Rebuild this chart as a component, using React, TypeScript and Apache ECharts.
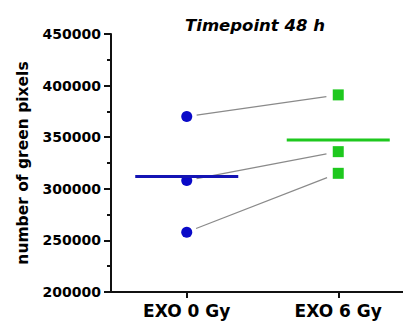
import React, { useEffect, useRef } from "react";
import * as echarts from "echarts";

const categories = ["EXO 0 Gy", "EXO 6 Gy"];
const exo0Values = [370000, 308000, 258000];
const exo6Values = [391000, 336000, 315000];
const yTicks = { min: 200000, max: 450000, interval: 50000 };
const titleText = "Timepoint 48 h";
const yAxisName = "number of green pixels";

const BLUE = "#0a0ac8";
const GREEN = "#1ec81e";
const FONT = "DejaVu Sans";

const mean = (a: number[]) => a.reduce((s, v) => s + v, 0) / a.length;

export default function App() {
  const ref = useRef<HTMLDivElement>(null);
  useEffect(() => {
    if (!ref.current) return;
    const chart = echarts.init(ref.current, null, { renderer: "svg" });
    const pairs = exo0Values.map((v, i) => [0, v, exo6Values[i]]);
    const means = [mean(exo0Values), mean(exo6Values)];
    chart.setOption({
      animation: false,
      backgroundColor: "#ffffff",
      title: {
        text: titleText,
        left: 180,
        top: 12,
        textStyle: {
          fontFamily: FONT,
          fontSize: 16.5,
          fontWeight: "bold",
          fontStyle: "italic",
          color: "#000",
        },
      },
      grid: { left: 111, right: 0, top: 34, bottom: 35, containLabel: false },
      xAxis: {
        type: "category",
        data: categories,
        boundaryGap: true,
        axisLine: { show: true, lineStyle: { color: "#111", width: 2 } },
        axisTick: { show: true, alignWithLabel: true, length: 6, lineStyle: { color: "#111", width: 2 } },
        axisLabel: {
          fontFamily: FONT,
          fontSize: 17,
          fontWeight: "bold",
          color: "#000",
          margin: 10,
        },
        splitLine: { show: false },
      },
      yAxis: {
        type: "value",
        min: yTicks.min,
        max: yTicks.max,
        interval: yTicks.interval,
        name: yAxisName,
        nameLocation: "middle",
        nameRotate: 90,
        nameGap: 80,
        nameTextStyle: {
          fontFamily: FONT,
          fontSize: 15.5,
          fontWeight: "bold",
          color: "#000",
        },
        axisLine: { show: true, lineStyle: { color: "#111", width: 2 } },
        axisTick: { show: true, length: 7, lineStyle: { color: "#111", width: 2 } },
        minorTick: { show: true, splitNumber: 2, length: 4, lineStyle: { color: "#111", width: 2 } },
        axisLabel: {
          fontFamily: FONT,
          fontSize: 14,
          fontWeight: "bold",
          color: "#000",
          margin: 10,
          formatter: (v: number) => String(v),
        },
        splitLine: { show: false },
      },
      series: [
        {
          type: "custom",
          name: "pairs",
          data: pairs,
          encode: { x: 0, y: [1, 2] },
          silent: true,
          z: 1,
          renderItem: (params: any, api: any) => {
            const p0 = api.coord([0, api.value(1)]);
            const p1 = api.coord([1, api.value(2)]);
            const dx = p1[0] - p0[0];
            const dy = p1[1] - p0[1];
            const len = Math.sqrt(dx * dx + dy * dy);
            const ux = dx / len;
            const uy = dy / len;
            const s = 10;
            const e = 12;
            return {
              type: "line",
              shape: {
                x1: p0[0] + ux * s,
                y1: p0[1] + uy * s,
                x2: p1[0] - ux * e,
                y2: p1[1] - uy * e,
              },
              style: { stroke: "#8a8a8a", lineWidth: 1.2 },
            };
          },
        },
        {
          type: "scatter",
          name: categories[0],
          data: exo0Values.map((v) => [categories[0], v]),
          symbol: "circle",
          symbolSize: 11,
          itemStyle: { color: BLUE, opacity: 1 },
          z: 2,
        },
        {
          type: "scatter",
          name: categories[1],
          data: exo6Values.map((v) => [categories[1], v]),
          symbol: "rect",
          symbolSize: 11,
          itemStyle: { color: GREEN, opacity: 1 },
          z: 2,
        },
        {
          type: "custom",
          name: "means",
          data: means.map((m, i) => [i, m]),
          silent: true,
          z: 3,
          renderItem: (params: any, api: any) => {
            const idx = api.value(0);
            const p = api.coord([idx, api.value(1)]);
            const band = api.size([1, 0])[0];
            const half = band * 0.34;
            return {
              type: "line",
              shape: { x1: p[0] - half, y1: p[1], x2: p[0] + half, y2: p[1] },
              style: { stroke: idx === 0 ? "#1414b4" : GREEN, lineWidth: 3 },
            };
          },
        },
      ],
    });
    return () => chart.dispose();
  }, []);
  return (
    <div
      style={{ position: "fixed", left: 0, top: 0, width: 403, height: 327, overflow: "hidden", background: "#fff" }}
    >
      <div ref={ref} style={{ width: 414, height: 327 }} />
    </div>
  );
}
